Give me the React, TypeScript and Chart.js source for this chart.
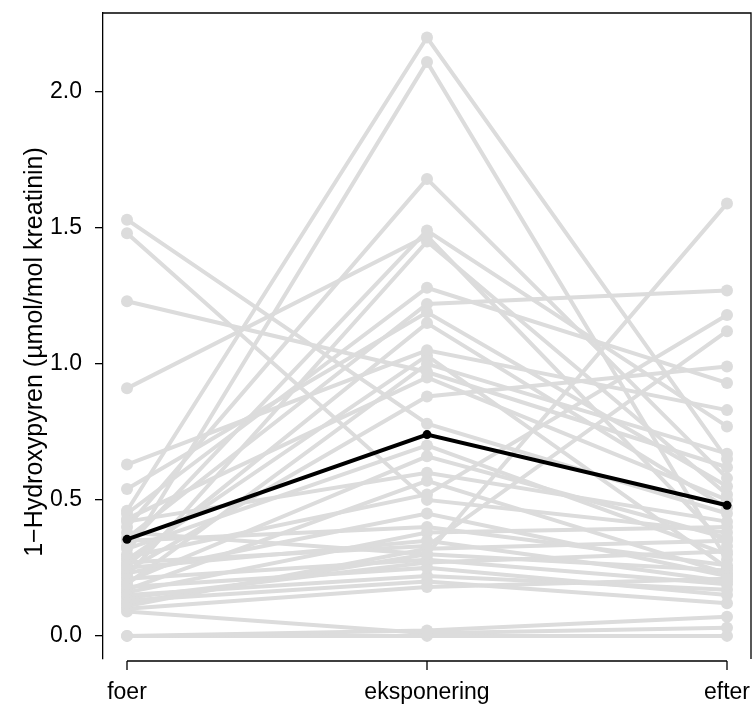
import React, { useEffect, useRef } from "react";
import { Chart, registerables } from "chart.js";

Chart.register(...registerables);

// Categories (time points) and their positions on the x scale
const categories = ["foer", "eksponering", "efter"];
const categoryPositions = [1, 2, 3];

// Individual subjects (one line per index across the three arrays)
const foerValues = [
  1.53, 1.48, 1.23, 0.91, 0.63, 0.54, 0.46, 0.45, 0.43, 0.42,
  0.4, 0.38, 0.36, 0.35, 0.33, 0.32, 0.3, 0.29, 0.28, 0.27,
  0.26, 0.25, 0.24, 0.23, 0.22, 0.21, 0.2, 0.19, 0.18, 0.17,
  0.16, 0.15, 0.14, 0.13, 0.12, 0.11, 0.1, 0.09, 0.0, 0.0,
];
const eksponeringValues = [
  0.78, 0.5, 0.97, 1.47, 1.05, 1.19, 2.2, 1.28, 0.95, 0.6,
  1.68, 0.3, 1.22, 0.4, 1.49, 0.7, 2.11, 0.52, 1.03, 0.33,
  1.15, 0.35, 0.88, 0.45, 1.45, 0.28, 0.66, 1.0, 0.25, 0.57,
  0.38, 0.22, 0.27, 0.2, 0.3, 0.32, 0.18, 0.01, 0.02, 0.0,
];
const efterValues = [
  0.45, 0.38, 0.62, 0.33, 0.83, 0.55, 0.65, 0.93, 0.5, 0.42,
  0.58, 1.59, 1.27, 0.26, 0.77, 0.3, 0.28, 1.18, 0.25, 1.12,
  0.47, 0.2, 0.99, 0.22, 0.52, 0.19, 0.36, 0.67, 0.15, 0.23,
  0.4, 0.17, 0.31, 0.12, 0.24, 0.35, 0.21, 0.03, 0.07, 0.0,
];

// Group mean line
const meanValues = [0.355, 0.74, 0.48];

// Axis ticks / texts
const yTickValues = [0, 0.5, 1.0, 1.5, 2.0];
const yAxisTitle = "1\u2212Hydroxypyren (\u00b5mol/mol kreatinin)";

const FONT = "'Liberation Sans', Arial, Helvetica, sans-serif";

const framePlugin = {
  id: "rFrame",
  afterDraw(chart: any) {
    const { ctx, chartArea: a, scales } = chart;
    const xs = scales.x;
    ctx.save();
    ctx.strokeStyle = "#000";
    ctx.lineWidth = 1.3;
    ctx.beginPath();
    ctx.moveTo(a.left, a.top);
    ctx.lineTo(a.right, a.top);
    ctx.lineTo(a.right, a.bottom);
    ctx.stroke();
    const y0 = a.bottom + 2;
    const first = xs.getPixelForValue(categoryPositions[0]);
    const last = xs.getPixelForValue(categoryPositions[categoryPositions.length - 1]);
    ctx.beginPath();
    ctx.moveTo(first, y0);
    ctx.lineTo(last, y0);
    categoryPositions.forEach((p) => {
      const px = xs.getPixelForValue(p);
      ctx.moveTo(px, y0);
      ctx.lineTo(px, y0 + 9);
    });
    ctx.stroke();

    // y axis title (R places it slightly below the plot-region centre here)
    ctx.translate(35, a.top + (a.bottom - a.top) / 2 + 16);
    ctx.rotate(-Math.PI / 2);
    ctx.fillStyle = "#000";
    ctx.font = "25px " + FONT;
    ctx.textAlign = "center";
    ctx.textBaseline = "middle";
    ctx.fillText(yAxisTitle, 0, 0);
    ctx.restore();
  },
};

export default function App() {
  const canvasRef = useRef<HTMLCanvasElement | null>(null);

  useEffect(() => {
    document.body.style.margin = "0";
    const canvas = canvasRef.current;
    if (!canvas) return;

    const subjectDatasets = foerValues.map((_, i) => ({
      label: "subject " + (i + 1),
      data: [foerValues[i], eksponeringValues[i], efterValues[i]].map((v, j) => ({
        x: categoryPositions[j],
        y: v,
      })),
      borderColor: "#dcdcdc",
      backgroundColor: "#dcdcdc",
      borderWidth: 4,
      pointRadius: 6,
      pointBorderWidth: 0,
      pointBackgroundColor: "#dcdcdc",
      tension: 0,
      order: 1,
    }));

    const meanDataset = {
      label: "mean",
      data: meanValues.map((v, j) => ({ x: categoryPositions[j], y: v })),
      borderColor: "#000",
      backgroundColor: "#000",
      borderWidth: 4,
      pointRadius: 4.5,
      pointBorderWidth: 0,
      pointBackgroundColor: "#000",
      tension: 0,
      order: 0,
    };

    const chart = new Chart(canvas, {
      type: "line",
      data: { datasets: [meanDataset, ...subjectDatasets] as any },
      options: {
        animation: false,
        responsive: false,
        devicePixelRatio: 1,
        layout: { autoPadding: false, padding: { top: 13, right: 3, left: 0, bottom: 0 } },
        plugins: {
          legend: { display: false },
          tooltip: { enabled: false },
        },
        scales: {
          x: {
            type: "linear",
            min: 0.92,
            max: 3.08,
            afterBuildTicks: (scale: any) => {
              scale.ticks = categoryPositions.map((v) => ({ value: v }));
            },
            afterFit: (scale: any) => {
              scale.height = 45;
              scale.paddingLeft = 0;
              scale.paddingRight = 0;
            },
            grid: { display: false },
            border: { display: false },
            ticks: {
              autoSkip: false,
              maxRotation: 0,
              padding: 12,
              color: "#000",
              font: { family: FONT, size: 23 },
              callback: (value: any) => categories[categoryPositions.indexOf(Number(value))] ?? "",
            },
          },
          y: {
            type: "linear",
            min: -0.085,
            max: 2.29,
            afterBuildTicks: (scale: any) => {
              scale.ticks = yTickValues.map((v) => ({ value: v }));
            },
            afterFit: (scale: any) => {
              scale.width = 103;
              scale.paddingTop = 0;
              scale.paddingBottom = 0;
            },
            grid: {
              display: true,
              drawOnChartArea: false,
              drawTicks: true,
              tickLength: 8,
              color: "#000",
              lineWidth: 1.3,
            },
            border: { display: true, color: "#000", width: 1.3 },
            ticks: {
              padding: 13,
              color: "#000",
              font: { family: FONT, size: 23 },
              callback: (value: any) => Number(value).toFixed(1),
            },
            title: { display: false },
          },
        },
      },
      plugins: [framePlugin],
    });

    return () => chart.destroy();
  }, []);

  return (
    <div style={{ width: 754, height: 704 }}>
      <canvas ref={canvasRef} width={754} height={704} style={{ display: "block" }} />
    </div>
  );
}
